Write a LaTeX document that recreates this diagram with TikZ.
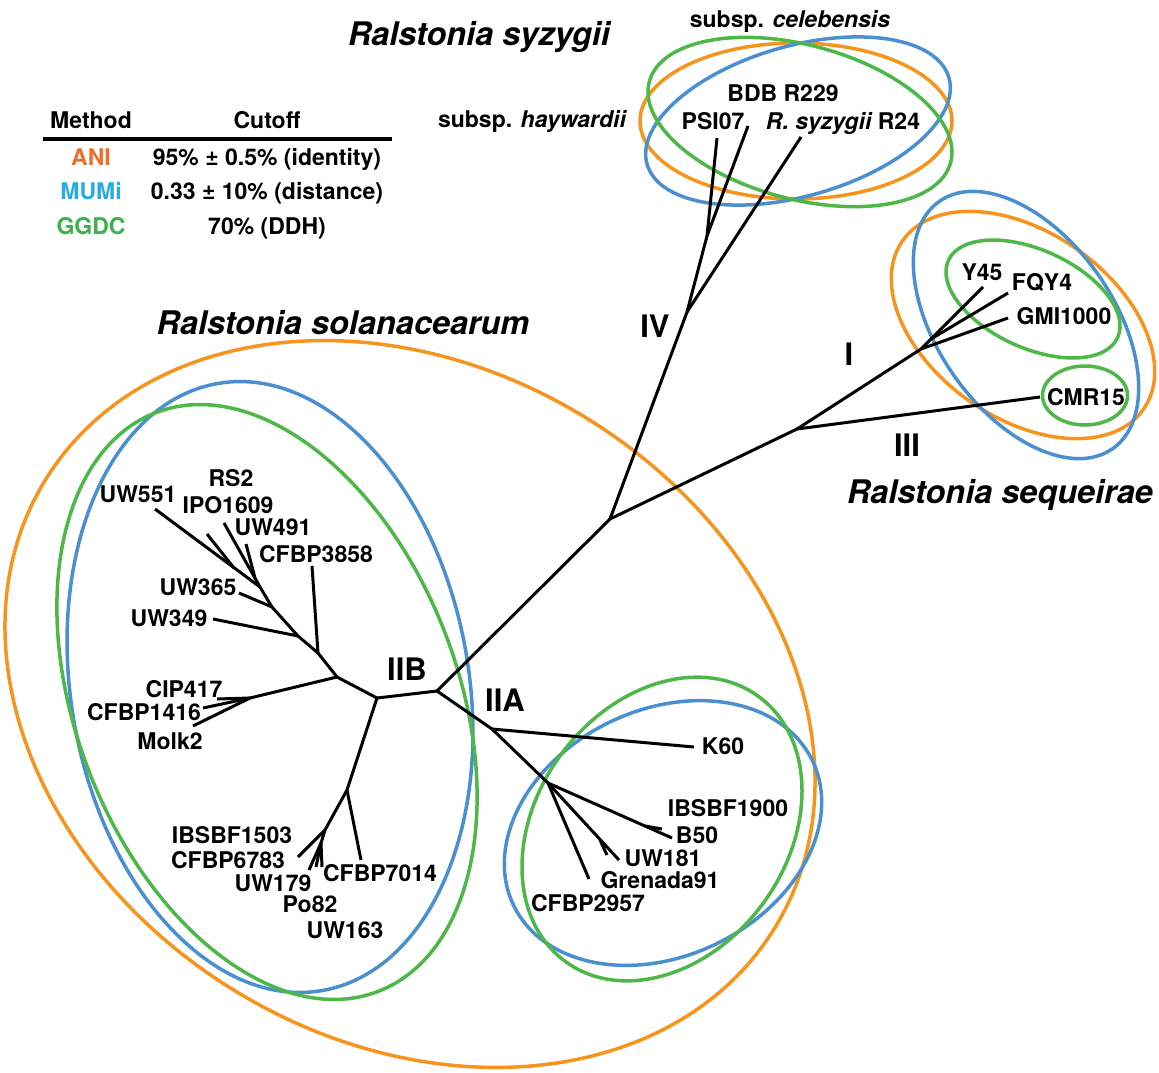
\documentclass[tikz,border=0pt]{standalone}
\usepackage{fontspec}
\setmainfont{TeX Gyre Heros}
\definecolor{orangeC}{RGB}{247,148,30}
\definecolor{blueC}{RGB}{74,144,208}
\definecolor{greenC}{RGB}{77,183,72}
\definecolor{aniC}{RGB}{239,108,42}
\definecolor{mumiC}{RGB}{41,171,226}
\definecolor{ggdcC}{RGB}{57,179,74}
\tikzset{
  lab/.style={font=\fontsize{23}{26}\selectfont\bfseries, inner sep=0pt, anchor=base},
  ttl/.style={font=\fontsize{32.5}{36}\selectfont\bfseries\itshape, inner sep=0pt, anchor=base},
  clade/.style={font=\fontsize{31}{34}\selectfont\bfseries, inner sep=0pt, anchor=base},
  br/.style={line width=3pt, black},
  eo/.style={draw=orangeC, line width=3.5pt},
  eb/.style={draw=blueC, line width=3.5pt},
  eg/.style={draw=greenC, line width=3.5pt},
}
\begin{document}
\begin{tikzpicture}[x=1pt,y=-1pt]
\useasboundingbox (0,0) rectangle (1159,1072);
% ---------- ellipses ----------
\draw[eo, rotate around={-31.5:(410,704)}] (410,704) ellipse [x radius=428, y radius=336];
\draw[eb, rotate around={9.7:(270,687)}] (270,687) ellipse [x radius=199, y radius=308];
\draw[eg, rotate around={21:(267,702)}] (267,702) ellipse [x radius=191, y radius=310];
\draw[eb, rotate around={26:(663,833)}] (663,833) ellipse [x radius=166, y radius=123];
\draw[eg, rotate around={54:(662,829)}] (662,829) ellipse [x radius=164, y radius=125.5];
\draw[eo] (796,121) ellipse [x radius=156, y radius=78];
\draw[eb, rotate around={16:(798,121)}] (798,121) ellipse [x radius=157, y radius=75];
\draw[eg, rotate around={-15:(800,122)}] (800,122) ellipse [x radius=156, y radius=77];
\draw[eo, rotate around={-35:(1023,325)}] (1023,325) ellipse [x radius=147, y radius=93];
\draw[eb, rotate around={-55:(1026,325)}] (1026,325) ellipse [x radius=151, y radius=88];
\draw[eg, rotate around={-24.5:(1033,299)}] (1033,299) ellipse [x radius=93, y radius=49];
\draw[eg] (1085,395.5) ellipse [x radius=42.5, y radius=29.5];
% ---------- tree coordinates ----------
\coordinate (C) at (437,691);
\coordinate (R) at (610,519);
\coordinate (J4) at (687,312);
\coordinate (J4a) at (707,236);
\coordinate (tPSI) at (717,138);
\coordinate (tBDB) at (748,126);
\coordinate (tR24) at (801,137);
\coordinate (J13) at (797,429);
\coordinate (tCMR) at (1040,397);
\coordinate (JI) at (921,349);
\coordinate (JIa) at (931,339);
\coordinate (tY45) at (983,287);
\coordinate (tFQY) at (1008,293);
\coordinate (tGMI) at (1008,318);
% IIB
\coordinate (JB) at (377,698);
\coordinate (JB1) at (337,677);
\coordinate (JB2) at (318,653);
\coordinate (t3858) at (312,566);
\coordinate (JB3) at (298,636);
\coordinate (t349) at (213,619);
\coordinate (JB4) at (272,607);
\coordinate (t365) at (239,593);
\coordinate (JB5) at (260,587);
\coordinate (t551) at (155,509);
\coordinate (JB6) at (234,568);
\coordinate (tRS2) at (207,534);
\coordinate (tIPO) at (224,523);
\coordinate (JB7) at (255,578);
\coordinate (t491) at (246,544);
\coordinate (JC) at (250,698);
\coordinate (tCIP) at (217,699);
\coordinate (t1416) at (203,708);
\coordinate (tMolk) at (193,726);
\coordinate (JD) at (347,790);
\coordinate (t7014) at (361,860);
\coordinate (JE) at (325,830);
\coordinate (t1503) at (298,857);
\coordinate (JF) at (321,843);
\coordinate (t6783) at (309,870);
\coordinate (t179) at (316,867);
\coordinate (t82) at (322,867);
% IIA
\coordinate (JA) at (492,729);
\coordinate (tK60) at (694,747);
\coordinate (JA2) at (548,783);
\coordinate (tB50) at (672,838);
\coordinate (JA3) at (645,826);
\coordinate (t1900) at (662,829);
\coordinate (t181) at (619,860);
\coordinate (JA4) at (600,840);
\coordinate (tGren) at (607,855);
\coordinate (t2957) at (589,879);
% ---------- branches ----------
\draw[br] (C) -- (R);
\draw[br] (R) -- (J4);
\draw[br] (J4) -- (J4a);
\draw[br] (J4a) -- (tPSI);
\draw[br] (J4a) -- (tBDB);
\draw[br] (J4) -- (tR24);
\draw[br] (R) -- (J13);
\draw[br] (J13) -- (tCMR);
\draw[br] (J13) -- (JI);
\draw[br] (JI) -- (tGMI);
\draw[br] (JI) -- (JIa);
\draw[br] (JIa) -- (tY45);
\draw[br] (JIa) -- (tFQY);
\draw[br] (C) -- (JB);
\draw[br] (JB) -- (JB1);
\draw[br] (JB1) -- (JB2);
\draw[br] (JB2) -- (t3858);
\draw[br] (JB2) -- (JB3);
\draw[br] (JB3) -- (t349);
\draw[br] (JB3) -- (JB4);
\draw[br] (JB4) -- (t365);
\draw[br] (JB4) -- (JB5);
\draw[br] (JB5) -- (t551);
\draw[br] (JB6) -- (tRS2);
\draw[br] (JB5) -- (tIPO);
\draw[br] (JB7) -- (t491);
\draw[br] (JB1) -- (JC);
\draw[br] (JC) -- (tCIP);
\draw[br] (JC) -- (t1416);
\draw[br] (JC) -- (tMolk);
\draw[br] (JB) -- (JD);
\draw[br] (JD) -- (t7014);
\draw[br] (JD) -- (JE);
\draw[br] (JE) -- (t1503);
\draw[br] (JE) -- (JF);
\draw[br] (JF) -- (t6783);
\draw[br] (JF) -- (t179);
\draw[br] (JF) -- (t82);
\draw[br] (C) -- (JA);
\draw[br] (JA) -- (tK60);
\draw[br] (JA) -- (JA2);
\draw[br] (JA2) -- (tB50);
\draw[br] (JA3) -- (t1900);
\draw[br] (JA2) -- (t181);
\draw[br] (JA4) -- (tGren);
\draw[br] (JA2) -- (t2957);
% ---------- labels ----------
\node[lab] (lUW551) at (138,502) {UW551};
\node[lab] (lRS2) at (231,486) {RS2};
\node[lab] (lIPO) at (228,513) {IPO1609};
\node[lab] (lUW491) at (273,535) {UW491};
\node[lab] (l3858) at (316,562) {CFBP3858};
\node[lab] (lUW365) at (198,595) {UW365};
\node[lab] (lUW349) at (169,626) {UW349};
\node[lab] (lCIP) at (184,697) {CIP417};
\node[lab] (l1416) at (144,720) {CFBP1416};
\node[lab] (lMolk) at (170,749) {Molk2};
\node[lab] (l1503) at (232,843) {IBSBF1503};
\node[lab] (l6783) at (228,868) {CFBP6783};
\node[lab] (l179) at (273,891) {UW179};
\node[lab] (lPo82) at (310,912) {Po82};
\node[lab] (l163) at (345,938) {UW163};
\node[lab] (l7014) at (380,881) {CFBP7014};
\node[lab] (lK60) at (723,754) {K60};
\node[lab] (l1900) at (728,816) {IBSBF1900};
\node[lab] (lB50) at (697,843) {B50};
\node[lab] (l181) at (663,866) {UW181};
\node[lab] (lGren) at (660,888) {Grenada91};
\node[lab] (l2957) at (588,911) {CFBP2957};
\node[lab] (lY45) at (982,280) {Y45};
\node[lab] (lFQY) at (1042,290) {FQY4};
\node[lab] (lGMI) at (1064,324) {GMI1000};
\node[lab] (lCMR) at (1086,405) {CMR15};
\node[lab] (lPSI) at (713,129) {PSI07};
\node[lab] (lBDB) at (783,101) {BDB R229};
\node[lab] (lR24) at (843,129) {\itshape R. syzygii\upshape{} R24};
\node[lab] (lceleb) at (790,27) {subsp. \itshape celebensis};
\node[lab] (lhay) at (532,127) {subsp. \itshape haywardii};
\node[clade] (cIIB) at (407,680) {IIB};
\node[clade] (cIIA) at (505,711) {IIA};
\node[clade] (cIV) at (655,337) {IV};
\node[clade] (cI) at (849,365) {I};
\node[clade] (cIII) at (907,456) {III};
\node[ttl] (tSyz) at (479,45) {Ralstonia syzygii};
\node[ttl] (tSol) at (343,334) {Ralstonia solanacearum};
\node[ttl] (tSeq) at (1000,503) {Ralstonia sequeirae};
% ---------- legend ----------
\node[lab] (hMethod) at (91,128) {Method};
\node[lab] (hCutoff) at (267,128) {Cutoff};
\coordinate (ruleL) at (43,139);
\coordinate (ruleR) at (392,139);
\draw[line width=3.5pt] (ruleL) -- (ruleR);
\node[lab, text=aniC] (mANI) at (91,165) {ANI};
\node[lab] (cANI) at (267,165) {95\% ± 0.5\% (identity)};
\node[lab, text=mumiC] (mMUMi) at (91,199) {MUMi};
\node[lab] (cMUMi) at (267,199) {0.33 ± 10\% (distance)};
\node[lab, text=ggdcC] (mGGDC) at (91,234) {GGDC};
\node[lab] (cGGDC) at (267,234) {70\% (DDH)};
\end{tikzpicture}
\end{document}
